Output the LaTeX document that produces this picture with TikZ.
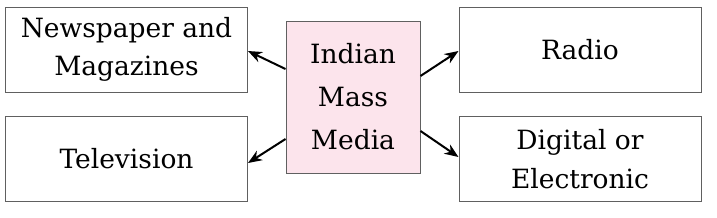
\documentclass[tikz,border=0pt]{standalone}
\usepackage{fontspec}
\setmainfont{DejaVu Serif}
\usepackage{xcolor}
\usetikzlibrary{positioning, arrows.meta}
\definecolor{boxgray}{HTML}{606060}
\definecolor{mediapink}{HTML}{FCE4EC}

\begin{document}
\begin{tikzpicture}[x=1pt, y=-1pt,
    mediabox/.style={draw=boxgray, line width=1pt, align=center,
      minimum width=242pt, minimum height=85pt, inner sep=0pt,
      font=\fontsize{26.5}{38.5}\selectfont},
    hubbox/.style={draw=boxgray, line width=1pt, fill=mediapink, align=center,
      minimum width=134pt, minimum height=152pt, inner sep=0pt,
      font=\fontsize{26.5}{43}\selectfont},
    outarrow/.style={line width=2pt, -{Stealth[length=14pt, width=11pt]}}]
  \useasboundingbox (0,0) rectangle (717,217);
  \fill[white] (0,0) rectangle (717,217);
  % centre and the four kinds of media
  \node[hubbox] (hub) at (353,97) {Indian\\Mass\\Media};
  \node[mediabox] (paper) at (126.5,49.5) {Newspaper and\\Magazines};
  \node[mediabox] (tv) at (126.5,159) {Television};
  \node[mediabox] (radio) at (580,49.5) {Radio};
  \node[mediabox] (digital) at (580,159) {Digital or\\Electronic};
  % arrows out of the centre
  \draw[outarrow] ([yshift=28pt]hub.west) -- ([yshift=-1.5pt]paper.east);
  \draw[outarrow] ([yshift=-42pt]hub.west) -- ([yshift=-4pt]tv.east);
  \draw[outarrow] ([yshift=21pt]hub.east) -- ([yshift=-1.5pt]radio.west);
  \draw[outarrow] ([yshift=-34pt]hub.east) -- ([yshift=2pt]digital.west);
\end{tikzpicture}
\end{document}
